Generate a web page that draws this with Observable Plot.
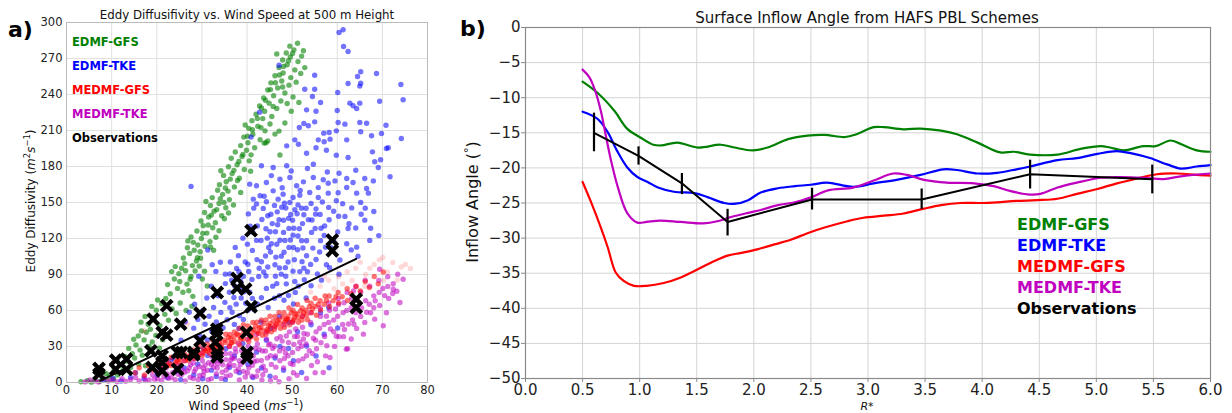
<!DOCTYPE html>
<html><head><meta charset="utf-8">
<script src="https://cdn.jsdelivr.net/npm/d3@7"></script>
<script src="https://cdn.jsdelivr.net/npm/@observablehq/plot@0.6"></script>
<style>
body{margin:0;background:#fff;font-family:"DejaVu Sans",sans-serif;}
#wrap{position:relative;width:1232px;height:413px;overflow:hidden;background:#fff;}
#wrap svg{position:absolute;top:0;}
</style></head><body><div id="wrap"></div><script>
// ---------------- Panel a data ----------------
const seriesNames = ["EDMF-GFS","EDMF-TKE","MEDMF-GFS","MEDMF-TKE","Observations"];
const seriesColors = ["#008000","#0000ff","#ff0000","#bf00bf","#000000"];
const xTicksA = [0,10,20,30,40,50,60,70,80];
const yTicksA = [0,30,60,90,120,150,180,210,240,270,300];

const edmfGfs = [[3.2,0.6],[4.6,1.4],[5.5,0.3],[6.3,2.2],[7.4,1.0],[8.1,3.6],[9.0,1.7],[9.6,5.4],[10.4,2.8],[8.8,7.3],[11.3,6.2],
[10.6,11.5],[11.8,14.2],[12.5,10.1],[13.4,17.8],[14.2,12.6],[15.1,20.4],[12.9,21.7],[16.0,15.3],[14.6,24.1],[16.8,22.8],[11.2,18.6],[17.5,13.9],
[13.8,28.4],[15.4,31.2],[16.3,27.0],[17.2,35.5],[18.3,30.1],[15.9,38.7],[19.0,33.8],[17.7,41.9],[19.8,39.2],[14.9,36.0],[20.6,28.5],[18.6,44.3],[21.3,35.7],[16.6,43.0],
[18.1,48.6],[19.4,52.7],[20.7,47.4],[17.4,55.1],[21.8,56.8],[19.9,60.3],[22.6,51.9],[18.9,63.4],[21.1,65.7],[23.4,61.2],[20.2,68.8],[24.3,57.5],[22.0,70.1],[25.2,66.2],[16.5,50.3],[26.5,60.1],[27.8,63.5],
[23.0,73.9],[24.6,78.4],[22.4,81.6],[25.8,75.2],[23.9,86.3],[26.7,82.0],[24.9,90.7],[27.6,88.4],[25.5,95.2],[28.5,92.9],[26.2,99.1],[29.4,97.0],[23.3,92.4],[27.1,76.5],[30.1,86.2],[28.0,71.8],[24.1,96.6],[31.2,80.4],[30.6,92.8],[29.0,104.1],
[25.9,103.8],[27.3,107.5],[28.8,101.2],[26.8,112.3],[29.6,109.0],[28.1,116.8],[30.7,113.6],[27.6,121.3],[29.9,120.1],[31.8,117.4],[28.9,126.2],[31.1,124.5],[32.4,128.9],[30.3,130.7],[33.1,121.0],[26.9,118.0],[32.6,110.2],
[29.8,134.6],[31.5,137.9],[33.0,133.2],[30.6,141.7],[32.7,142.8],[34.4,139.0],[31.9,147.5],[33.8,149.2],[35.3,145.6],[32.3,154.1],[34.6,156.8],[36.1,152.4],[33.5,160.2],[35.8,159.5],[30.9,150.8],[37.0,147.9],[35.0,136.5],
[33.9,164.8],[35.4,167.3],[37.2,163.0],[34.8,172.6],[36.7,174.1],[38.3,170.2],[35.9,179.8],[37.8,181.4],[39.4,177.5],[36.5,186.9],[38.9,188.3],[40.5,184.7],[37.4,192.1],[39.9,193.6],[34.2,176.4],[40.8,176.0],
[38.6,197.4],[40.2,199.8],[41.7,195.6],[39.3,204.5],[41.3,206.9],[42.9,202.3],[40.4,211.8],[42.4,213.5],[44.0,209.7],[41.1,218.2],[43.5,219.9],[45.1,215.4],[39.6,214.6],[46.2,207.0],[43.8,199.5],
[42.0,223.6],[43.9,226.0],[45.5,221.7],[42.8,230.4],[44.9,232.8],[46.6,228.3],[43.7,237.1],[45.9,239.0],[47.5,234.6],[44.6,243.8],[46.8,245.5],[48.4,241.2],[45.3,249.7],[47.7,251.3],[49.3,247.8],[48.9,232.5],[50.2,238.0],[51.5,233.4],[49.8,226.1],[48.4,216.3],[47.1,209.5],[44.2,199.8],[47.3,189.6],[44.6,201.3],
[46.2,255.6],[48.0,257.9],[49.7,254.1],[47.1,262.4],[48.9,264.8],[50.6,260.5],[47.9,268.7],[49.6,271.3],[51.3,267.4],[48.7,274.6],[50.4,277.2],[52.1,272.0],[49.5,280.3],[51.2,282.7],[52.5,276.5],[46.6,273.8],[52.8,262.4],[51.9,257.6],[50.9,250.3],
[25.1,84.2],[26.4,93.1],[27.9,97.4],[28.3,110.2],[29.1,114.6],[30.2,124.3],[31.4,131.2],[32.1,139.5],[33.3,144.1],[34.1,153.2],[35.2,162.1],[36.3,169.5],[37.1,176.8],[38.2,184.2],[39.1,190.1],[40.1,205.3],[41.2,210.6],[42.3,220.1],[43.2,228.7],[44.1,235.2],[45.2,244.1],[46.3,249.8],[47.2,256.3],[48.1,263.4],[49.2,268.1],[50.1,274.2],[34.9,150.1],[37.9,168.3],[40.9,189.7],[43.1,212.4],[45.8,230.1],[47.9,246.2],[29.7,103.5],[31.9,112.9],[33.8,126.4],[35.9,141.3],[38.6,158.4],[27.4,86.1]];

const edmfTke = [[61.3,293.9],[60.4,291.7],[61.4,280.0],[62.4,275.8],[55.0,256.1],[65.2,258.9],[68.7,257.5],[64.5,255.0],[65.2,249.4],[62.4,249.2],[74.1,248.3],[52.8,244.4],[55.0,244.4],[60.1,241.7],[65.0,247.0],[54.5,238.3],[74.6,235.6],[69.4,234.4],[56.3,233.3],[62.8,232.8],[63.5,230.6],[65.0,232.8],[64.3,228.3],[53.2,227.2],[55.3,226.1],[60.0,226.7],[55.0,217.2],[60.2,216.7],[61.7,215.3],[65.0,216.7],[66.5,216.1],[70.8,214.4],[52.6,215.8],[53.6,213.9],[51.6,212.5],[57.0,207.8],[58.2,208.3],[59.8,209.7],[65.2,208.9],[67.6,205.6],[69.8,207.5],[74.2,203.3],[50.6,202.2],[55.8,202.2],[58.4,202.8],[62.1,202.2],[57.1,200.6],[48.8,197.2],[51.4,198.6],[55.3,195.6],[57.6,193.6],[53.2,191.1],[59.8,189.4],[62.4,187.5],[67.8,192.2],[70.9,195.0],[71.3,195.6],[54.7,181.9],[68.3,183.9],[69.6,185.6],[69.1,179.2],[60.4,174.4],[64.1,176.9],[66.1,170.0],[68.0,168.0],[71.7,171.4],[47.1,264.4],[42.8,225.3],[40.9,204.5],
[43.2,180.6],[45.8,179.2],[48.8,180.6],[40.6,165.3],[42.1,163.9],[44.3,166.7],[47.3,169.4],[49.5,170.8],[51.0,163.9],[52.5,167.2],[54.7,170.8],[56.9,168.9],[58.0,166.1],[59.5,168.0],[62.1,170.0],[63.5,166.7],[62.1,162.5],[42.9,155.6],[45.8,159.7],[48.0,156.9],[50.2,154.2],[51.7,156.1],[53.9,158.3],[55.8,154.2],[58.0,157.8],[59.8,151.4],[64.3,157.8],[66.9,157.8],[66.5,161.7],[41.4,152.8],[46.9,152.8],[49.5,150.0],
[36.2,62.4],[37.1,70.8],[36.6,85.3],[37.7,95.1],[38.3,55.6],[38.6,78.2],[38.1,105.7],[39.2,88.4],[39.7,66.1],[39.1,120.3],[40.2,98.6],[40.6,75.2],[40.3,140.5],[41.2,110.1],[41.6,60.7],[41.1,85.9],[42.3,130.4],[42.7,95.2],[42.1,148.8],[43.2,70.6],[43.1,118.3],[43.6,145.1],[44.2,88.7],[44.1,105.4],[44.6,139.0],[44.7,62.5],[45.1,125.6],[45.3,140.2],[45.7,80.3],[46.2,98.1],[46.1,147.6],[46.6,115.2],[46.8,131.5],[47.2,72.4],[47.1,135.7],[47.6,90.3],[47.7,146.0],[48.2,108.5],[48.1,125.1],[48.6,145.4],[48.7,82.2],[49.2,136.8],[49.1,100.4],[49.6,118.7],[50.1,135.3],[50.2,92.8],[50.6,143.9],[50.7,75.1],[51.2,110.6],[51.3,148.0],[51.6,128.2],[52.2,100.7],[52.1,145.3],[52.7,85.6],[52.6,139.8],[53.2,118.1],[53.6,135.7],[54.1,98.4],[54.2,149.2],[54.6,112.0],[55.1,128.3],[55.3,144.7],[55.6,90.5],[56.2,140.1],[56.1,108.8],[56.7,150.4],[57.1,122.5],[57.6,98.2],[58.2,135.6],[58.1,145.9],[58.6,112.3],[59.2,142.7],[60.1,125.4],[60.6,102.1],[61.2,148.9],[61.7,138.4],[62.1,115.6],[62.6,132.3],[63.2,145.5],[64.1,128.7],[64.6,105.2],[65.2,150.1],[66.1,135.3],[67.2,118.4],[65.3,140.2],[68.1,142.5],
[41.3,125.2],[42.2,102.4],[43.3,135.8],[43.7,92.1],[44.3,150.6],[44.5,120.3],[45.2,108.7],[45.6,132.4],[46.3,88.6],[46.7,142.2],[47.3,118.5],[47.6,105.3],[48.3,149.4],[48.5,95.7],[49.3,128.4],[49.7,140.1],[50.3,112.5],[50.5,102.3],[51.1,140.6],[51.7,92.4],[40.1,115.3],[40.7,130.2],[39.6,100.5],[42.1,118.4],[41.5,145.3],[43.2,100.6],[44.2,128.1],[45.4,115.6],[46.3,125.7],[47.2,95.4],[48.1,135.2],[49.3,112.6],[50.2,122.8],[51.3,122.1],[52.3,132.4],[53.1,145.2],[53.2,105.6],[54.3,125.1],[55.2,140.3],[56.3,118.2],[57.2,130.5],[44.3,78.4],[46.1,70.2],[48.2,68.5],[50.3,65.4],[41.2,70.1],[39.3,75.6],[40.2,60.3],[42.3,65.4],[37.3,80.5],[38.2,92.3],[36.3,100.4],[37.4,112.6],[35.2,90.3],[36.1,75.2],[60.3,138.6],[59.2,118.4],[62.4,128.3],[63.1,110.5],[66.2,145.3],[64.3,112.8],[67.4,128.6],[69.2,122.4],[57.4,112.8],[55.3,102.5],[53.4,92.3],[52.1,118.2],[56.5,85.3],[58.3,95.6],[60.4,90.2],[54.2,80.6],[51.4,80.3],[49.2,72.5],
[44.8,112.6],[46.4,104.5],[48.4,118.3],[50.4,128.6],[52.4,112.1],[54.4,135.4],[56.4,128.6],[42.6,88.3],[44.6,96.2],[46.6,82.4],[48.6,88.6],[50.6,84.2],[52.6,95.3],[40.4,92.6],[38.6,84.4],[43.8,155.2],[47.8,162.3],[51.8,160.1],[55.8,162.4],[60.2,158.1],[45.4,172.4],[49.8,176.2],[53.4,178.3],[57.8,175.4],
[28.2,45.3],[29.1,52.6],[29.6,38.4],[30.2,60.1],[30.7,48.5],[31.1,70.4],[31.6,55.2],[32.2,42.7],[32.1,80.3],[32.6,62.5],[33.2,50.4],[33.1,92.6],[33.6,72.3],[34.2,58.4],[34.1,100.2],[34.7,45.6],[35.2,82.4],[35.1,66.8],[35.6,52.3],[36.2,90.5],[36.7,58.6],[37.2,48.4],[37.6,65.3],[38.2,45.1],[38.7,70.4],[39.2,52.6],[31.2,35.4],[30.3,28.6],[27.2,58.5],[26.3,50.6],[28.4,65.2],[29.3,88.5],[27.6,163.4],[31.3,110.4],[32.3,98.2],[25.4,35.3],[23.6,20.4],
[8.2,2.1],[10.3,3.4],[12.1,1.2],[14.2,4.3],[15.3,8.1],[17.2,3.2],[18.4,10.2],[20.1,6.3],[21.2,14.1],[22.3,4.2],[23.1,18.3],[24.2,9.1],[25.3,2.4],[26.1,12.2],[27.3,20.1],[28.2,6.2],[29.1,15.3],[30.2,3.1],[31.3,22.4],[32.1,10.3],[33.2,5.1],[34.1,18.2],[35.3,28.1],[35.2,2.3],[36.1,12.4],[37.2,22.1],[38.3,8.2],[39.1,32.4],[40.2,15.1],[41.3,4.2],[42.1,25.3],[43.2,12.1],[44.3,35.2],[45.1,5.3],[46.2,20.4],[47.3,30.1],[48.1,10.2],[49.2,28.3],[50.3,18.1],[52.1,8.3],[53.2,30.4],[55.3,22.1],[57.1,40.2],[58.2,12.3],[60.1,45.4],[54.2,48.1],[56.3,58.2],[58.1,62.4],[51.2,42.3],[49.3,50.2],[53.1,70.4],[47.2,55.3],[45.3,45.1],[43.1,50.4]];

const medmfGfs = [[15.2,8.1],[16.1,12.3],[17.3,6.2],[18.2,14.1],[19.1,10.4],[20.3,16.2],[21.2,12.1],[22.1,19.3],[22.4,14.2],[23.2,21.1],[24.1,16.4],[24.4,22.2],[25.2,19.1],[26.1,24.3],[26.3,18.2],[27.2,22.4],[28.1,27.2],[28.4,20.1],[29.2,25.3],[29.3,30.1],[30.1,22.4],[30.4,28.2],[31.2,32.1],[31.3,26.3],[32.1,29.4],[32.4,35.2],[33.2,24.1],[33.3,31.2],[34.1,36.3],[34.4,28.1],[35.2,33.4],[35.3,40.2],[36.1,30.1],[36.4,36.3],[37.2,42.1],[37.3,34.2],[38.1,39.4],[38.4,31.3],[39.2,44.1],[39.3,36.2],[40.1,41.3],[40.4,34.1],[40.2,47.2],[41.1,38.3],[41.4,44.1],[42.2,50.3],[42.3,42.2],[43.1,46.1],[43.4,39.3],[44.2,52.2],[44.3,44.1],[45.1,49.3],[45.4,42.2],[46.2,55.1],[46.3,47.3],[47.1,52.4],[47.4,45.2],[48.2,58.1],[48.3,50.3],[49.1,55.2],[49.4,48.1],[50.2,60.3],[50.3,52.1],[51.1,57.3],[51.4,50.2],[52.2,62.1],[52.3,55.4],[53.1,60.2],[53.4,52.3],[54.2,66.1],[54.3,58.2],[55.1,63.3],[55.4,56.1],[56.2,68.2],[56.3,60.4],[57.1,65.2],[58.2,72.1],[58.3,63.3],[59.1,68.2],[60.2,75.1],[60.3,66.2],[61.1,71.4],[62.2,78.1],[62.3,68.3],[63.1,74.2],[64.2,80.1],[65.1,76.3],[66.2,84.1],[67.1,79.2],[68.2,88.3],[69.1,82.2],[70.2,92.1],[38.3,45.2],[36.2,40.1],[34.3,31.2],[32.2,26.4],[30.3,25.1],[28.2,23.3],[42.1,36.2],[44.2,40.3],[46.1,44.2],[48.3,46.1],[50.1,50.4],[52.2,52.1],[39.1,40.2],[41.2,42.3],[43.3,43.1],[45.2,46.4],[47.3,49.2],[49.1,52.3],[51.3,54.1],[53.2,56.2],[35.1,35.3],[33.2,30.1],[37.1,38.2],[31.3,28.4],[29.2,22.1],[27.1,18.3],[25.3,15.2],[23.2,14.1],[45.1,55.2],[43.2,52.1],[47.1,58.3],[41.3,50.1],[39.2,48.2],[55.1,70.2],[57.3,72.1],[53.3,68.4],[51.2,65.1],[49.3,62.2],[36.6,33.1],[38.7,37.2],[40.8,39.1],[42.7,45.6],[44.8,47.3],[33.6,27.4],[31.7,24.2],[26.8,21.2],[24.7,19.1],[46.7,51.4],[48.8,53.2],[50.7,57.1],
[31.9,29.6],[33.9,33.8],[35.9,37.4],[37.8,40.6],[39.8,42.8],[41.9,46.9],[43.8,49.2],[45.8,51.1],[47.9,54.5],[49.8,58.1],[51.9,59.6],[53.8,63.2],[55.8,65.1],[57.6,68.4],[59.7,71.5],[36.4,32.8],[38.5,35.7],[40.6,37.6],[42.5,40.9],[44.6,43.2],[46.5,48.6],[48.6,51.8],[50.5,54.3],[52.6,58.2],[54.5,61.4],[30.8,26.6],[28.9,23.9],[26.6,20.5],[24.5,17.8],[22.8,16.1]];

const medmfGfsFaint = [[56.2,80.3],[58.1,85.2],[60.3,88.1],[62.2,92.3],[64.1,95.2],[66.3,90.1],[68.2,98.3],[70.1,104.2],[72.3,100.1],[74.2,96.3],[65.1,100.2],[63.3,85.1],[67.2,95.3],[71.1,92.2],[73.3,85.4],[61.2,82.1],[59.3,78.2],[54.1,75.3],[57.2,88.1],[69.3,102.2],[75.1,98.3],[76.2,95.1],[66.1,80.2],[70.3,85.1],[17.2,43.1],[26.8,48.7]];

const medmfTke = [[4.1,0.5],[5.2,2.1],[6.3,1.2],[7.1,0.4],[8.2,3.1],[9.3,1.2],[10.1,2.3],[11.2,0.6],[12.3,3.2],[13.1,1.1],[14.2,2.4],[15.3,4.2],[16.1,1.3],[17.2,5.1],[18.3,2.2],[19.1,6.3],[20.2,3.1],[20.4,9.2],[21.1,1.4],[22.3,7.2],[22.1,12.3],[23.2,4.1],[24.3,10.2],[24.1,2.3],[25.2,14.1],[25.4,6.2],[26.1,8.3],[26.3,1.2],[27.2,12.1],[27.4,4.3],[28.1,16.2],[28.3,9.1],[29.2,2.4],[29.4,13.2],[30.1,18.3],[30.3,6.1],[31.2,10.2],[31.4,2.3],[32.1,15.1],[32.3,21.2],[33.2,7.3],[33.4,12.1],[34.1,18.2],[34.3,3.4],[35.2,24.1],[35.4,10.3],[36.1,15.2],[36.3,6.1],[37.2,20.3],[37.4,28.1],[38.1,11.2],[38.3,2.1],[39.2,17.3],[39.4,25.2],[40.1,8.1],[40.3,30.2],[41.2,14.3],[41.4,22.1],[42.1,5.2],[42.3,32.1],[43.2,18.3],[43.4,26.2],[44.1,10.1],[44.3,36.2],[45.2,22.3],[45.4,15.1],[46.1,30.2],[46.3,4.1],[47.2,26.3],[47.4,38.1],[48.1,12.2],[48.3,20.1],[49.2,33.3],[49.4,42.2],[50.1,25.1],[50.3,8.2],[51.2,38.3],[51.4,18.1],[52.1,30.2],[52.3,46.1],[53.2,22.3],[53.4,40.2],[54.1,50.1],[54.3,14.2],[55.2,35.3],[55.4,28.1],[56.1,45.2],[56.3,55.1],[57.2,38.3],[57.4,22.2],[58.1,50.1],[58.3,60.2],[59.2,42.3],[59.4,30.1],[60.1,55.2],[60.3,65.1],[61.2,48.3],[61.4,38.2],[62.1,60.1],[62.3,28.2],[63.2,70.3],[63.4,52.1],[64.1,58.2],[64.3,45.1],[65.2,75.3],[65.4,62.2],[66.1,50.1],[66.3,68.2],[67.2,80.3],[67.4,58.1],[68.1,72.2],[68.3,52.8],[69.2,85.1],[69.4,64.2],[70.1,78.3],[70.9,58.1],[71.2,88.2],[71.4,70.1],[72.4,82.3],[72.4,77.8],[73.2,76.1],[73.4,90.2],[74.6,86.1],[73.9,66.7],[70.2,47.3],[63.1,36.2],[62.0,27.8],[58.4,20.8],[56.9,8.3],[69.4,94.4],
[28.2,20.1],[30.1,24.3],[32.2,28.1],[34.1,30.2],[36.3,24.1],[38.1,32.3],[40.2,36.1],[42.1,40.2],[44.3,42.1],[46.1,46.3],[48.2,48.1],[50.1,50.2],[52.3,55.1],[54.1,58.2],[56.2,62.1],[58.1,66.3],[60.2,70.1],[26.1,18.2],[24.3,15.1],[22.2,16.3],[33.1,25.2],[35.3,19.1],[37.1,14.2],[39.2,9.3],[41.1,5.2],[43.3,2.1],[45.2,1.3],[47.1,0.6],[49.3,3.2],[51.1,6.1],[53.2,3.3],[55.1,8.2],[50.2,15.1],[48.1,28.3],[46.3,22.1],[44.1,26.2],[42.2,18.1],[40.1,22.3],[38.3,18.2],[36.1,30.1],[34.2,24.3],[32.1,3.2],[30.3,12.1],[28.1,3.3],[45.1,32.2],[47.3,18.1],[49.1,22.3],[51.3,28.2],[53.1,32.1],[55.3,42.2],[57.1,48.3],[59.2,52.1],[61.3,58.2],[63.1,62.3],[65.2,55.1],[67.1,65.2],[69.3,75.1],[66.2,85.3],[64.1,80.2],[62.2,75.1],[68.1,62.3],[71.2,80.1],[72.3,74.2],
[31.5,16.4],[33.7,19.8],[35.8,13.6],[37.6,9.4],[39.7,20.7],[41.8,28.6],[43.6,13.5],[45.7,28.4],[47.8,34.5],[49.6,15.8],[51.7,33.6],[53.8,26.4],[55.6,17.3],[57.7,30.6],[59.8,38.5],[61.6,44.2],[63.7,48.6],[65.8,40.3],[54.7,36.9],[52.6,40.8],[50.8,44.6],[48.7,38.7],[46.6,36.4],[44.8,31.2],[42.7,27.5],[40.6,25.8],[38.8,26.7],[36.7,20.4],[34.6,14.8],[32.8,17.2],[30.7,14.6],[28.6,11.3],[26.8,9.6],[24.7,6.8],[22.6,3.5],
[30.5,9.2],[32.6,12.8],[34.5,8.6],[36.4,18.7],[38.5,14.9],[40.4,12.3],[42.4,9.7],[44.5,20.5],[46.4,12.8],[48.5,24.6],[50.4,31.8],[52.4,19.7],[54.5,24.2],[56.4,33.2],[58.5,44.6],[60.4,38.2],[62.5,48.7],[64.4,68.4],[66.5,58.6],[68.4,68.1],[70.5,72.4],[43.5,6.4],[41.6,17.4],[39.6,4.6],[37.5,25.3],[35.4,5.2],[33.5,15.6],[29.5,5.8],[27.5,14.7],[25.6,10.8],[23.5,8.2],[21.6,5.1],[19.5,2.8],[17.5,1.6],[50.6,38.4],[52.5,36.2],[57.6,55.3],[59.6,61.2],[61.5,66.4],[63.6,76.2]];

const obsWind = [7.2,7.2,10.9,10.9,13.3,13.3,19.2,18.7,19.0,21.2,22.2,22.2,21.2,21.2,21.2,25.3,24.6,24.6,25.5,28.2,28.2,29.6,29.6,33.4,33.3,33.3,33.0,33.4,33.4,37.8,37.8,39.7,39.9,40.0,40.0,40.9,40.9,58.9,58.9,64.2,64.2];
const obsK    = [11.7,7.0,18.6,11.0,19.5,11.0,52.8,26.4,12.5,41.7,39.5,64.0,22.2,16.7,9.7,48.6,11.0,25.0,25.0,25.0,23.0,57.8,34.7,75.0,44.5,40.3,33.4,25.0,21.4,86.7,78.7,77.8,41.7,25.0,20.3,126.5,63.1,118.7,109.8,69.5,62.5];
const fitWind = [7.5, 64.2];
const fitK = [1.5, 103.0];

// ---------------- Panel b data ----------------
const xTicksB = [0,0.5,1,1.5,2,2.5,3,3.5,4,4.5,5,5.5,6];
const yTicksB = [0,-5,-10,-15,-20,-25,-30,-35,-40,-45,-50];
const gfsR = [0.5,0.63,0.78,0.89,1.01,1.12,1.19,1.33,1.51,1.71,1.83,1.99,2.12,2.30,2.47,2.62,2.80,2.90,3.05,3.14,3.31,3.46,3.64,3.78,3.96,4.16,4.28,4.42,4.66,4.86,5.04,5.12,5.24,5.41,5.52,5.65,5.74,5.88,6.0];
const gfsA = [-7.7,-9.3,-11.9,-14.4,-15.7,-16.7,-16.8,-16.4,-17.1,-16.7,-17.1,-17.5,-17.1,-15.9,-15.4,-15.3,-15.6,-15.2,-14.2,-14.2,-14.5,-14.4,-14.7,-15.2,-16.4,-17.8,-17.7,-18.1,-18.1,-17.3,-16.9,-17.1,-17.5,-16.9,-16.9,-16.1,-16.6,-17.5,-17.7];
const tkeR = [0.5,0.63,0.72,0.80,0.89,0.98,1.07,1.16,1.30,1.48,1.60,1.74,1.84,1.95,2.06,2.21,2.36,2.50,2.64,2.87,3.05,3.25,3.46,3.66,3.78,3.96,4.13,4.30,4.42,4.66,4.83,5.01,5.18,5.30,5.47,5.62,5.74,5.88,6.0];
const tkeA = [-12.0,-13.0,-14.9,-17.5,-19.9,-21.3,-22.0,-22.8,-23.4,-23.6,-24.2,-25.0,-25.1,-24.6,-23.5,-22.9,-22.6,-22.4,-22.1,-22.7,-22.2,-21.7,-21.0,-20.2,-20.3,-20.8,-20.7,-20.2,-19.8,-18.9,-18.6,-18.0,-17.6,-17.9,-18.6,-19.5,-20.1,-19.8,-19.6];
const mgfsR = [0.5,0.57,0.66,0.72,0.79,0.86,0.95,1.06,1.21,1.36,1.54,1.65,1.77,1.89,2.03,2.18,2.33,2.47,2.62,2.82,2.96,3.14,3.31,3.49,3.64,3.81,3.99,4.13,4.30,4.48,4.66,4.83,5.01,5.18,5.36,5.53,5.71,5.88,6.0];
const mgfsA = [-22.0,-24.7,-28.5,-31.3,-34.9,-36.1,-36.8,-36.8,-36.4,-35.6,-34.2,-33.3,-32.5,-32.1,-31.6,-30.9,-30.2,-29.3,-28.5,-27.6,-27.1,-26.8,-26.5,-25.8,-25.3,-25.0,-25.0,-24.9,-24.7,-24.6,-24.4,-23.7,-23.0,-22.2,-21.5,-20.9,-20.8,-21.0,-21.1];
const mtkeR = [0.5,0.56,0.61,0.66,0.70,0.75,0.81,0.89,0.98,1.06,1.18,1.36,1.56,1.68,1.80,1.95,2.06,2.21,2.36,2.50,2.65,2.87,3.05,3.22,3.34,3.49,3.69,3.93,4.10,4.25,4.42,4.51,4.66,4.83,5.04,5.21,5.41,5.59,5.74,6.0];
const mtkeA = [-6.0,-7.1,-9.0,-11.9,-15.1,-19.0,-22.8,-26.4,-27.8,-27.7,-27.5,-27.7,-27.9,-27.6,-27.0,-26.4,-26.0,-25.3,-24.9,-24.2,-23.2,-22.8,-21.8,-20.8,-21.0,-21.7,-22.1,-22.2,-22.6,-23.3,-23.8,-23.7,-22.8,-22.1,-21.4,-21.3,-21.4,-21.6,-21.2,-20.8];
const obsR  = [0.60,0.99,1.37,1.77,2.51,3.47,4.42,5.49];
const obsA  = [-15.0,-18.3,-22.2,-27.7,-24.5,-24.5,-20.9,-21.6];
const obsLo = [-17.7,-19.6,-23.8,-29.7,-26.0,-25.9,-23.0,-23.7];
const obsHi = [-12.2,-17.0,-20.8,-25.9,-22.9,-23.0,-18.9,-19.6];

const titleA = "Eddy Diffusifivity vs. Wind Speed at 500 m Height";
const titleB = "Surface Inflow Angle from HAFS PBL Schemes";

// ---------------- build ----------------
const wrap = document.getElementById("wrap");
const toPts = a => a.map(([x,y]) => ({x,y}));
const obs = obsWind.map((x,i) => ({x, y: obsK[i]}));
const fit = fitWind.map((x,i) => ({x, y: fitK[i]}));

const dotOpts = (fill, op) => ({x:"x", y:"y", r:2.7, fill, fillOpacity:op, stroke:null});

const plotA = Plot.plot({
  width: 440, height: 413,
  marginLeft: 66, marginRight: 13, marginTop: 22, marginBottom: 31,
  x: {domain:[0,80]}, y: {domain:[0,300]},
  style: {fontFamily:"DejaVu Sans", fontSize:"11.5px", background:"transparent", color:"#222"},
  marks: [
    Plot.gridX(xTicksA, {stroke:"#e0e0e0", strokeOpacity:1}),
    Plot.gridY(yTicksA, {stroke:"#e0e0e0", strokeOpacity:1}),
    Plot.dot(toPts(edmfGfs), dotOpts(seriesColors[0], 0.6)),
    Plot.dot(toPts(edmfTke), dotOpts(seriesColors[1], 0.55)),
    Plot.dot(toPts(medmfTke), dotOpts(seriesColors[3], 0.55)),
    Plot.dot(toPts(medmfGfsFaint), dotOpts(seriesColors[2], 0.15)),
    Plot.dot(toPts(medmfGfs), dotOpts(seriesColors[2], 0.55)),
    Plot.line(fit, {x:"x", y:"y", stroke:"#000", strokeWidth:2}),
    Plot.dot(obs, {x:"x", y:"y", symbol:"times", r:5, stroke:"#000", strokeWidth:4.2}),
    Plot.frame({stroke:"#bbb"}),
    Plot.axisX(xTicksA, {tickSize:0, tickPadding:3, label:null}),
    Plot.axisY(yTicksA, {tickSize:0, tickPadding:4, label:null})
  ]
});
plotA.style.left = "0px";
wrap.appendChild(plotA);

const mk = (R, A) => R.map((r,i) => ({r, a:A[i]}));
const obsB = obsR.map((r,i) => ({r, a:obsA[i], lo:obsLo[i], hi:obsHi[i]}));
const lineOpts = (stroke) => ({x:"r", y:"a", stroke, strokeWidth:2.2, curve:"catmull-rom"});

const plotB = Plot.plot({
  width: 792, height: 413,
  marginLeft: 85, marginRight: 22, marginTop: 27, marginBottom: 35,
  x: {domain:[0,6]}, y: {domain:[-50,0]},
  style: {fontFamily:"DejaVu Sans", fontSize:"15px", background:"transparent", color:"#222"},
  marks: [
    Plot.gridX(xTicksB, {stroke:"#d4d4d4", strokeOpacity:1}),
    Plot.gridY(yTicksB, {stroke:"#d4d4d4", strokeOpacity:1}),
    Plot.line(mk(gfsR, gfsA), lineOpts(seriesColors[0])),
    Plot.line(mk(tkeR, tkeA), lineOpts(seriesColors[1])),
    Plot.line(mk(mgfsR, mgfsA), lineOpts(seriesColors[2])),
    Plot.line(mk(mtkeR, mtkeA), lineOpts(seriesColors[3])),
    Plot.line(obsB, {x:"r", y:"a", stroke:"#000", strokeWidth:2}),
    Plot.ruleX(obsB, {x:"r", y1:"lo", y2:"hi", stroke:"#000", strokeWidth:2.2}),
    Plot.frame({stroke:"#8a8a8a", strokeWidth:1.2}),
    Plot.axisX(xTicksB, {tickSize:4, tickPadding:2, tickFormat:d3.format(".1f"), stroke:"#8a8a8a", label:null}),
    Plot.axisY(yTicksB, {tickSize:4, tickPadding:1, tickFormat:d3.format("d"), stroke:"#8a8a8a", label:null})
  ]
});
plotB.style.left = "440px";
wrap.appendChild(plotB);

// ---------------- annotations ----------------
const ov = d3.select("#wrap").append("svg")
  .attr("width",1232).attr("height",413)
  .style("left","0px").style("font-family","DejaVu Sans");
function addText(x, y, parts, o) {
  const t = ov.append("text").attr("x",x).attr("y",y)
    .attr("text-anchor", o.anchor || "start").attr("font-size", o.size)
    .attr("font-weight", o.weight || "normal").attr("fill", o.fill || "#111");
  if (o.rotate) t.attr("transform", `rotate(-90 ${x} ${y})`);
  (Array.isArray(parts) ? parts : [parts]).forEach(p => {
    const s = typeof p === "string" ? {t:p} : p;
    const ts = t.append("tspan").text(s.t);
    if (s.i) ts.attr("font-style","italic");
    if (s.sup) ts.attr("baseline-shift","super").attr("font-size", o.size*0.7);
  });
}
addText(8, 37, "a)", {size:22, weight:"bold", fill:"#000"});
addText(460, 36, "b)", {size:22, weight:"bold", fill:"#000"});
addText(247, 19, titleA, {size:11.8, anchor:"middle"});
addText(867, 23, titleB, {size:15, anchor:"middle"});
addText(246, 410, ["Wind Speed (", {t:"ms", i:true}, {t:"−1", sup:true}, ")"], {size:12, anchor:"middle"});
addText(35, 201, ["Eddy Diffusivity (", {t:"m", i:true}, {t:"2", sup:true}, {t:"s", i:true}, {t:"−1", sup:true}, ")"], {size:12, anchor:"middle", rotate:true});
addText(478, 202, ["Inflow Angle (", {t:"°", sup:true}, ")"], {size:16, anchor:"middle", rotate:true});
addText(867, 410, [{t:"R", i:true}, "*"], {size:11, anchor:"middle"});
seriesNames.forEach((n,i) => {
  addText(72, 46 + i*24, n, {size:11.5, weight:"bold", fill:seriesColors[i]});
  addText(1017, 230 + i*21, n, {size:16, weight:"bold", fill:seriesColors[i]});
});
</script></body></html>
